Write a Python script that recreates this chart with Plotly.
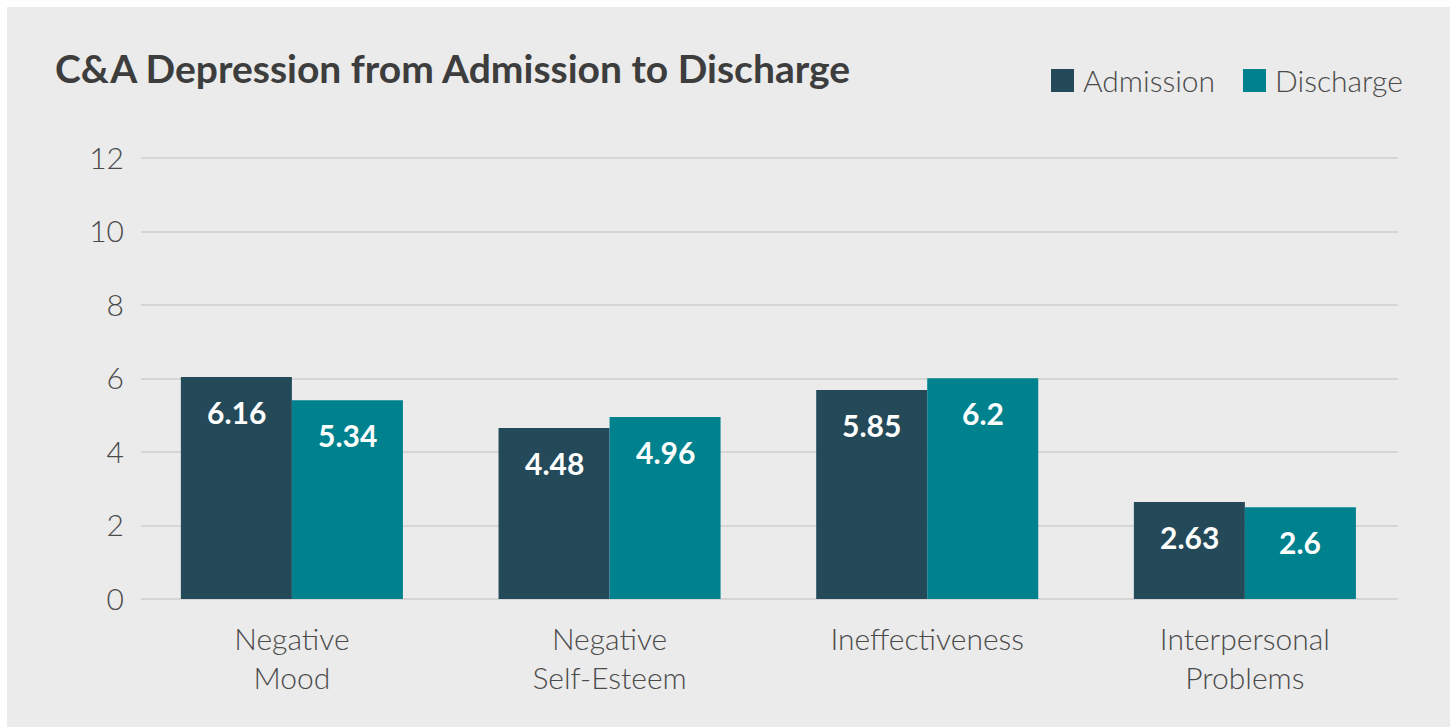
import plotly.graph_objects as go

# ---- data ----
categories = ["Negative<br>Mood", "Negative<br>Self-Esteem", "Ineffectiveness", "Interpersonal<br>Problems"]
series_names = ["Admission", "Discharge"]
admission = [6.04, 4.65, 5.69, 2.64]
discharge = [5.41, 4.95, 6.01, 2.50]
admission_labels = ["6.16", "4.48", "5.85", "2.63"]
discharge_labels = ["5.34", "4.96", "6.2", "2.6"]
y_ticks = [0, 2, 4, 6, 8, 10, 12]
title_text = "C&A Depression from Admission to Discharge"

# ---- styling ----
C_ADM = "#244A59"
C_DIS = "#00828E"
BG = "#EBEBEB"
FONT = "Lato"
TXT = "#4a4a4a"

W, H = 1443, 720
ML, MR, MT, MB = 134, 52, 149, 128
PW, PH = W - ML - MR, H - MT - MB
YMAX = 12 + 2 / 36.75

def paper_x(px):
    return (px - ML) / PW

def paper_y(py):
    return (H - MB - py) / PH

fig = go.Figure()
fig.add_trace(go.Bar(x=categories, y=admission, name=series_names[0],
                     marker=dict(color=C_ADM, line=dict(width=0)), showlegend=False))
fig.add_trace(go.Bar(x=categories, y=discharge, name=series_names[1],
                     marker=dict(color=C_DIS, line=dict(width=0)), showlegend=False))

annotations = []
half = PW / (3.482 + 0.475) * (1 - 0.301) / 4
for cat, v, lab in zip(categories, admission, admission_labels):
    annotations.append(dict(x=cat, y=v, text=lab, xshift=-half, yshift=-35, showarrow=False,
                            yanchor="middle", xanchor="center",
                            font=dict(family=FONT, size=30, color="white", weight=700)))
for cat, v, lab in zip(categories, discharge, discharge_labels):
    annotations.append(dict(x=cat, y=v, text=lab, xshift=half, yshift=-35, showarrow=False,
                            yanchor="middle", xanchor="center",
                            font=dict(family=FONT, size=30, color="white", weight=700)))

# manual legend (large squares)
shapes = []
legend_items = [(series_names[0], C_ADM, 1044), (series_names[1], C_DIS, 1236)]
for name, col, sx in legend_items:
    shapes.append(dict(type="rect", xref="paper", yref="paper",
                       x0=paper_x(sx), x1=paper_x(sx + 23), y0=paper_y(62), y1=paper_y(85),
                       fillcolor=col, line=dict(width=0), layer="above"))
    annotations.append(dict(xref="paper", yref="paper", x=paper_x(sx + 30), y=paper_y(73),
                            text=name, showarrow=False, xanchor="left", yanchor="middle",
                            font=dict(family=FONT, size=30, color=TXT, weight=300)))

fig.update_layout(
    width=W, height=H,
    margin=dict(l=ML, r=MR, t=MT, b=MB, pad=0),
    paper_bgcolor=BG, plot_bgcolor=BG,
    barmode="group", bargap=0.301, bargroupgap=0,
    title=dict(text=title_text, xref="container", yref="container",
               x=48 / W, xanchor="left", y=1 - 62 / H, yanchor="middle",
               font=dict(family=FONT, size=39, color="#3d3d3d", weight=700)),
    shapes=shapes,
    annotations=annotations,
    xaxis=dict(type="category", range=[-0.475, 3.482], showgrid=False, showline=False,
               zeroline=False, ticks="", ticklabelstandoff=20,
               tickfont=dict(family=FONT, size=30, color=TXT, weight=300)),
    yaxis=dict(range=[0, YMAX], tickvals=y_ticks, showgrid=True, gridcolor="#D5D5D5", gridwidth=2,
               zeroline=True, zerolinecolor="#D5D5D5", zerolinewidth=2, showline=False,
               ticks="", ticklabelstandoff=16,
               tickfont=dict(family=FONT, size=30, color=TXT, weight=300)),
)

fig.write_html("out.html", post_script="document.body.style.margin='7px 0 0 7px';")
